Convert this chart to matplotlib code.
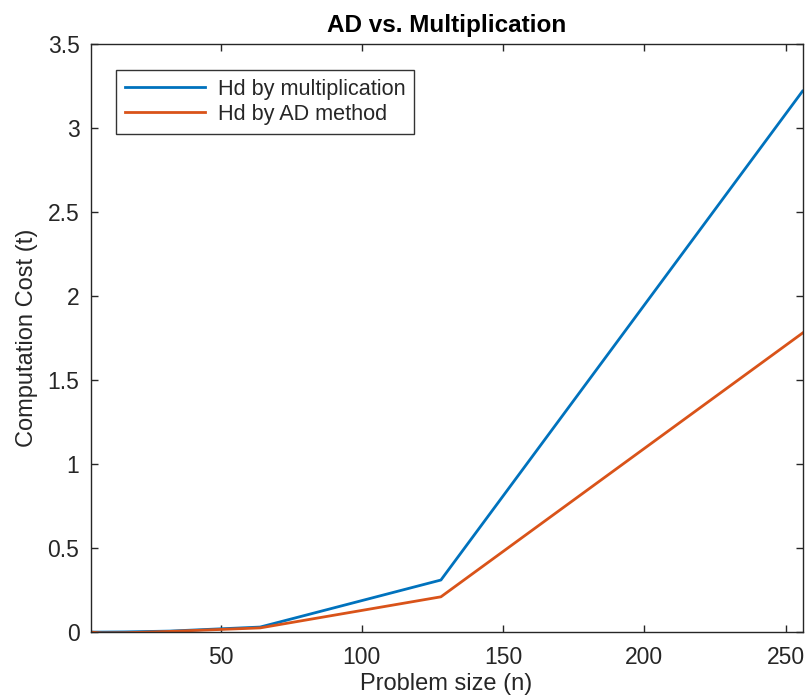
import matplotlib
matplotlib.use("Agg")
import matplotlib.pyplot as plt

# problem sizes and measured cost
n = [4, 8, 16, 32, 64, 128, 256]
cost_mult = [0.0, 0.0, 0.001, 0.006, 0.03, 0.31, 3.22]
cost_ad = [0.0, -0.005, -0.004, 0.004, 0.025, 0.21, 1.78]

plt.rcParams["font.family"] = ["Liberation Sans", "DejaVu Sans"]
dark = "#262626"

fig = plt.figure(figsize=(8.09, 7.0), dpi=100)
ax = fig.add_axes([0.112, 0.097, 0.880, 0.840])

ax.plot(n, cost_mult, color="#0072BD", linewidth=2.0, label="Hd by multiplication")
ax.plot(n, cost_ad, color="#D95319", linewidth=2.0, label="Hd by AD method")

ax.set_xlim(4, 256)
ax.set_ylim(0, 3.5)
ax.set_xticks([50, 100, 150, 200, 250])
ax.set_yticks([0, 0.5, 1, 1.5, 2, 2.5, 3, 3.5])
ax.set_yticklabels(["0", "0.5", "1", "1.5", "2", "2.5", "3", "3.5"])

ax.tick_params(direction="in", length=5, width=1, colors=dark, labelsize=16.5,
               top=True, right=True)
ax.tick_params(axis="x", pad=10)
ax.tick_params(axis="y", pad=8)
for s in ax.spines.values():
    s.set_color(dark)
    s.set_linewidth(1)

ax.set_title("AD vs. Multiplication", fontsize=17.5, fontweight="bold", color="black", pad=9)
ax.set_xlabel("Problem size (n)", fontsize=17, color=dark, labelpad=3)
ax.set_ylabel("Computation Cost (t)", fontsize=17, color=dark, labelpad=7)

leg = ax.legend(loc="upper left", bbox_to_anchor=(0.0356, 0.956), fontsize=15.6,
                frameon=True, fancybox=False, edgecolor="black", handlelength=3.7,
                handletextpad=0.6, borderpad=0.4, labelspacing=0.2, borderaxespad=0)
leg.get_frame().set_linewidth(1)
for t in leg.get_texts():
    t.set_color(dark)

fig.savefig("out.png", dpi=100)
